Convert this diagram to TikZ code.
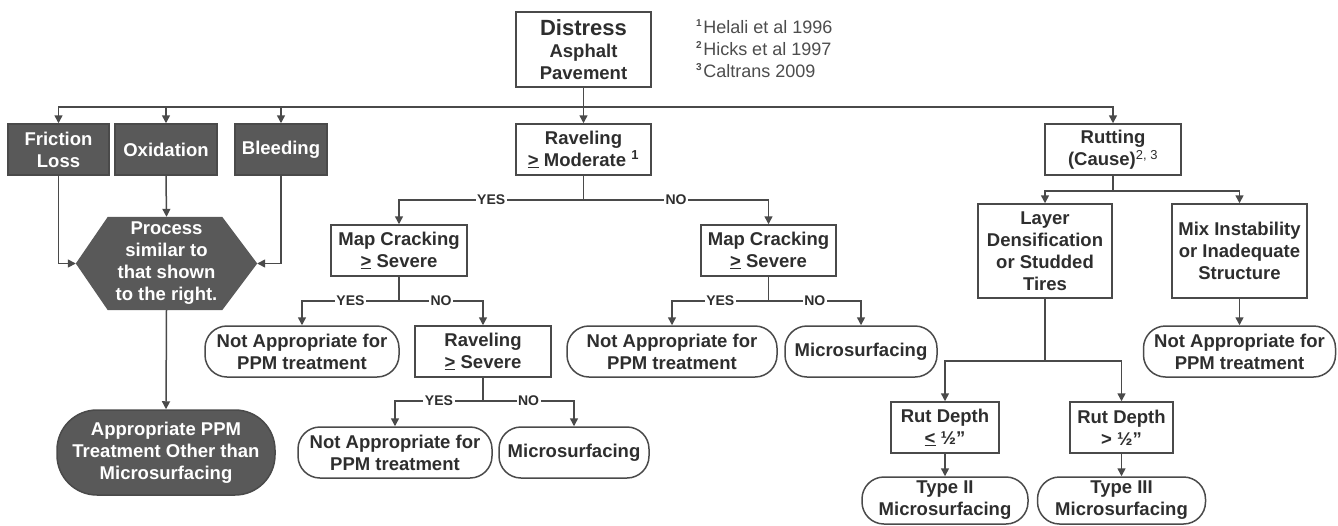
\documentclass[tikz,border=0pt]{standalone}
\usepackage{fontspec}
\setmainfont{Liberation Sans}
\usetikzlibrary{arrows.meta}
\pgfdeclarelayer{bg}
\pgfsetlayers{bg,main}
\definecolor{lncol}{HTML}{4A4A4A}
\definecolor{dkcol}{HTML}{595959}
\definecolor{txcol}{HTML}{2E2E2E}
\newcommand\bxf{\fontsize{18.5}{22}\selectfont\bfseries}
\newcommand\lbf{\fontsize{14}{14}\selectfont\bfseries}
\newcommand\supr[1]{\raisebox{6.5pt}{\fontsize{10}{10}\selectfont\bfseries #1}\hspace{1.5pt}}
\tikzset{
  box/.style={draw=lncol, line width=1.5pt, fill=white, text=txcol, font=\bxf,
    align=center, inner sep=0pt, minimum height=51pt},
  dbox/.style={box, fill=dkcol, text=white},
  term/.style={box, rounded corners=22pt},
  dterm/.style={dbox, rounded corners=40pt},
  hexs/.style={text=white, font=\bxf, align=center, inner sep=0pt,
    minimum width=181pt, minimum height=93pt},
  lbl/.style={fill=white, text=txcol, font=\lbf, inner sep=1.5pt},
  wire/.style={draw=lncol, line width=1.5pt},
  arr/.style={wire, -{Triangle[width=8pt,length=8pt]}},
  fnt/.style={text=txcol!85, font=\fontsize{18}{22}\selectfont, inner sep=0pt},
}
\begin{document}
\begin{tikzpicture}[x=1pt,y=-1pt]
\begin{pgfonlayer}{bg}
\fill[white] (0,0) rectangle (1338,525);
\end{pgfonlayer}
\useasboundingbox (0,0) rectangle (1338,525);

% top
\node[box, minimum width=135pt, minimum height=75pt] (distress) at (583.5,49.5)
  {{\fontsize{22}{24}\selectfont Distress}\\Asphalt\\Pavement};
\node[fnt, anchor=base west] (fn1) at (696,33) {\supr{1}Helali et al 1996};
\node[fnt, anchor=base west] (fn2) at (696,55) {\supr{2}Hicks et al 1997};
\node[fnt, anchor=base west] (fn3) at (696,77) {\supr{3}Caltrans 2009};

% left group
\node[dbox, minimum width=101pt] (friction) at (58.5,149.5) {Friction\\Loss};
\node[dbox, minimum width=102pt] (oxid) at (166,149.5) {Oxidation};
\node[dbox, minimum width=92pt] (bleed) at (281,149.5) {Bleeding};
\node[hexs] (hex) at (166.5,263.5) {Process\\similar to\\that shown\\to the right.};
\begin{pgfonlayer}{bg}
\fill[dkcol] (hex.west) -- ([xshift=32pt]hex.north west) -- ([xshift=-35pt]hex.north east)
  -- (hex.east) -- ([xshift=-35pt]hex.south east) -- ([xshift=32pt]hex.south west) -- cycle;
\end{pgfonlayer}
\node[dterm, minimum width=218pt, minimum height=85pt] (other) at (166,452.5)
  {Appropriate PPM\\Treatment Other than\\Microsurfacing};

% middle group
\node[box, minimum width=135pt] (ravmod) at (583.5,149.5) {Raveling\\\underline{>} Moderate \textsuperscript{1}};
\node[box, minimum width=136pt] (mc1) at (399,250.5) {Map Cracking\\\underline{>} Severe};
\node[box, minimum width=135pt] (mc2) at (768.5,250.5) {Map Cracking\\\underline{>} Severe};
\node[term, minimum width=194pt] (na1) at (302,351.5) {Not Appropriate for\\PPM treatment};
\node[box, minimum width=136pt] (rs) at (483,351.5) {Raveling\\\underline{>} Severe};
\node[term, minimum width=194pt] (na2) at (395,452.5) {Not Appropriate for\\PPM treatment};
\node[term, minimum width=150pt] (ms1) at (574,452.5) {Microsurfacing};
\node[term, minimum width=210pt] (na3) at (672,351.5) {Not Appropriate for\\PPM treatment};
\node[term, minimum width=152pt] (ms2) at (861,351.5) {Microsurfacing};

% right group
\node[box, minimum width=136pt] (rut) at (1113,149.5) {Rutting\\(Cause){\mdseries\textsuperscript{2, 3}}};
\node[box, minimum width=134pt, minimum height=94pt] (layer) at (1045,251) {Layer\\Densification\\or Studded\\Tires};
\node[box, minimum width=135pt, minimum height=94pt] (mix) at (1239.5,251) {Mix Instability\\or Inadequate\\Structure};
\node[term, minimum width=192pt] (na4) at (1239.5,351.5) {Not Appropriate for\\PPM treatment};
\node[box, minimum width=108pt] (rd1) at (945,427.5) {Rut Depth\\\underline{<} ½”};
\node[box, minimum width=103pt] (rd2) at (1121.5,427.5) {Rut Depth\\> ½”};
\node[term, minimum width=166pt, minimum height=47pt] (t2) at (945,500.5) {Type II\\Microsurfacing};
\node[term, minimum width=168pt, minimum height=47pt] (t3) at (1121.5,500.5) {Type III\\Microsurfacing};

% connectors
\coordinate (bus) at (0,107);
\draw[arr] (distress.south) -- (ravmod.north);
\foreach \n in {friction,oxid,bleed,rut}
  \draw[arr] (distress.south) |- (bus -| \n.north) -- (\n.north);
\draw[arr] (friction.south) |- (hex.west);
\draw[arr] (bleed.south) |- (hex.east);
\draw[arr] (oxid.south) -- (hex.north);
\draw[arr] (hex.south) -- (other.north);

\coordinate (j1) at (583.5,200);
\draw[wire] (ravmod.south) -- (j1);
\draw[arr] (j1) -| node[lbl,pos=0.25] (l1) {YES} (mc1.north);
\draw[arr] (j1) -| node[lbl,pos=0.25] (l2) {NO} (mc2.north);

\coordinate (j2) at (399,301);
\draw[wire] (mc1.south) -- (j2);
\draw[arr] (j2) -| node[lbl,pos=0.25] (l3) {YES} (na1.north);
\draw[arr] (j2) -| node[lbl,pos=0.25] (l4) {NO} (rs.north);

\coordinate (j3) at (483,401);
\draw[wire] (rs.south) -- (j3);
\draw[arr] (j3) -| node[lbl,pos=0.25] (l5) {YES} (na2.north);
\draw[arr] (j3) -| node[lbl,pos=0.25] (l6) {NO} (ms1.north);

\coordinate (j4) at (768.5,301);
\draw[wire] (mc2.south) -- (j4);
\draw[arr] (j4) -| node[lbl,pos=0.25] (l7) {YES} (na3.north);
\draw[arr] (j4) -| node[lbl,pos=0.25] (l8) {NO} (ms2.north);

\coordinate (j5) at (1113,191);
\draw[wire] (rut.south) -- (j5);
\draw[arr] (j5) -| (layer.north);
\draw[arr] (j5) -| (mix.north);
\draw[arr] (mix.south) -- (na4.north);

\coordinate (j6) at (1045,361);
\draw[wire] (layer.south) -- (j6);
\draw[arr] (j6) -| (rd1.north);
\draw[arr] (j6) -| (rd2.north);
\draw[arr] (rd1.south) -- (t2.north);
\draw[arr] (rd2.south) -- (t3.north);
\end{tikzpicture}
\end{document}
